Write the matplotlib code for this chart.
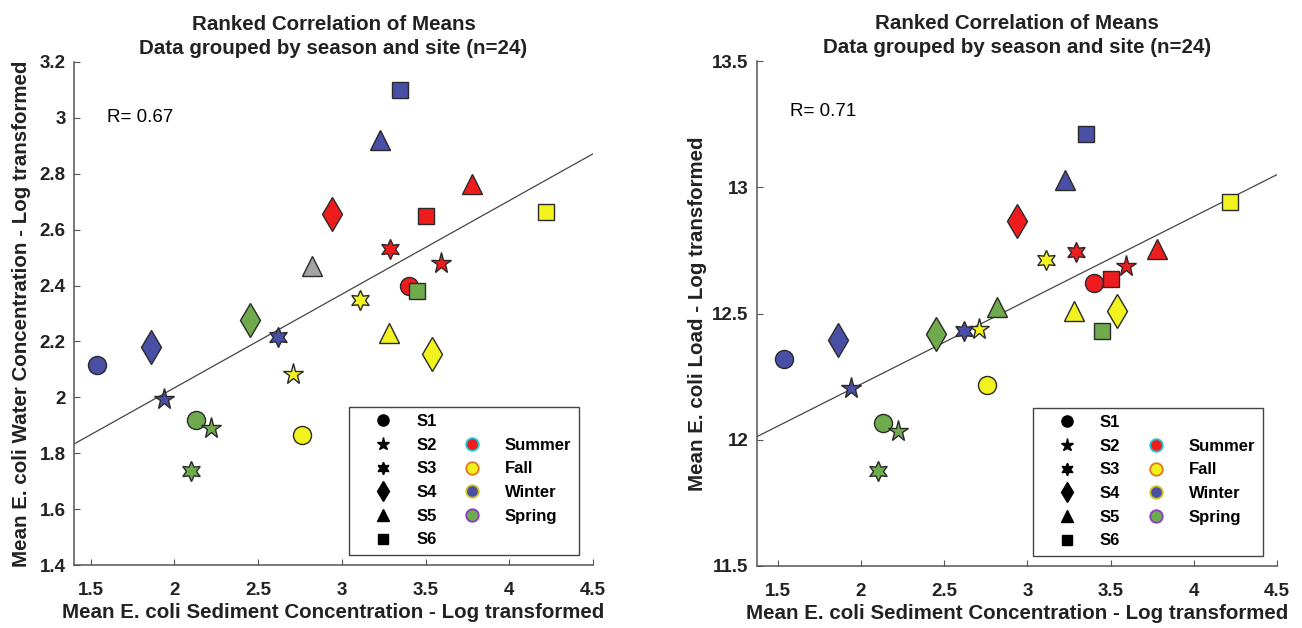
import numpy as np
import matplotlib
matplotlib.use("Agg")
import matplotlib.pyplot as plt
from matplotlib.lines import Line2D

plt.rcParams['font.family'] = ['Liberation Sans', 'DejaVu Sans']

# ---------------- data ----------------
sites = ["S1", "S2", "S3", "S4", "S5", "S6"]
seasons = ["Summer", "Fall", "Winter", "Spring"]

# x: mean E. coli sediment concentration (log), rows = sites, cols = seasons
sediment = [
    [3.40, 2.76, 1.54, 2.13],
    [3.59, 2.71, 1.94, 2.22],
    [3.29, 3.11, 2.62, 2.10],
    [2.94, 3.54, 1.86, 2.45],
    [3.78, 3.28, 3.225, 2.82],
    [3.50, 4.22, 3.35, 3.45],
]
# y (left): mean E. coli water concentration (log)
water = [
    [2.40, 1.865, 2.115, 1.92],
    [2.48, 2.085, 1.995, 1.89],
    [2.53, 2.35, 2.215, 1.735],
    [2.655, 2.155, 2.18, 2.275],
    [2.765, 2.23, 2.92, 2.47],
    [2.65, 2.665, 3.10, 2.38],
]
# y (right): mean E. coli load (log)
load = [
    [12.62, 12.215, 12.32, 12.065],
    [12.69, 12.44, 12.205, 12.035],
    [12.745, 12.71, 12.43, 11.875],
    [12.865, 12.51, 12.395, 12.42],
    [12.755, 12.51, 13.03, 12.525],
    [12.635, 12.94, 13.21, 12.43],
]
# fitted lines (slope, intercept) and correlation labels
fit_water = (0.335, 1.364)
fit_load = (0.332, 11.556)
r_water = "R= 0.67"
r_load = "R= 0.71"

# ---------------- styles ----------------
season_colors = {"Summer": "#ee1c1c", "Fall": "#f2f21e", "Winter": "#4a4fa6", "Spring": "#6fab4c"}
legend_edges = {"Summer": "#1fc4d4", "Fall": "#e0781e", "Winter": "#cfc41e", "Spring": "#8a3cc8"}
site_markers = {"S1": "o", "S2": "*", "S3": (6, 1, 0), "S4": "d", "S5": "^", "S6": "s"}
site_ms = {"S1": 13, "S2": 15.5, "S3": 14.5, "S4": 17, "S5": 14, "S6": 11}
edge = "#2a2a2a"

fig = plt.figure(figsize=(13.02, 6.28), dpi=100)
fig.patch.set_facecolor("white")
ax1 = fig.add_axes([74 / 1302, 63 / 628, 519 / 1302, 503 / 628])
ax2 = fig.add_axes([757 / 1302, 62 / 628, 520 / 1302, 505 / 628])


def draw(ax, yvals, fit, rtext, xlim, ylim, yticks, ylabel, rpos, ylabelpad, override=None):
    for i, s in enumerate(sites):
        for j, season in enumerate(seasons):
            col = season_colors[season]
            if override and (s, season) in override:
                col = override[(s, season)]
            ax.plot(sediment[i][j], yvals[i][j], marker=site_markers[s], ms=site_ms[s],
                    mfc=col, mec=edge, mew=1.0, ls="none", zorder=3)
    xs = np.array(xlim)
    ax.plot(xs, fit[0] * xs + fit[1], color="#444444", lw=0.9, zorder=2)
    ax.text(rpos[0], rpos[1], rtext, fontsize=13.5, va="center", ha="left")
    ax.set_xlim(*xlim)
    ax.set_ylim(*ylim)
    ax.set_xticks([1.5, 2, 2.5, 3, 3.5, 4, 4.5])
    ax.set_yticks(yticks)
    ax.xaxis.set_major_formatter(matplotlib.ticker.FormatStrFormatter("%g"))
    ax.yaxis.set_major_formatter(matplotlib.ticker.FormatStrFormatter("%g"))
    for sp in ["top", "right"]:
        ax.spines[sp].set_visible(False)
    for sp in ["left", "bottom"]:
        ax.spines[sp].set_color("#555555")
        ax.spines[sp].set_linewidth(1.1)
    ax.tick_params(direction="in", length=4, width=0.8, color="#555555", labelsize=13.5)
    ax.tick_params(axis="x", pad=12)
    ax.tick_params(axis="y", pad=6)
    for lab in ax.get_xticklabels() + ax.get_yticklabels():
        lab.set_fontweight("bold")
        lab.set_color("#222222")
    ax.set_xlabel("Mean E. coli Sediment Concentration - Log transformed",
                  fontsize=14.8, fontweight="bold", labelpad=3, color="#222222")
    ax.set_ylabel(ylabel, fontsize=14.8, fontweight="bold", labelpad=ylabelpad, color="#222222")
    ax.set_title("Ranked Correlation of Means\nData grouped by season and site (n=24)",
                 fontsize=14.8, fontweight="bold", pad=6, linespacing=1.3, color="#222222")

    handles = []
    labels = []
    for s in sites:
        handles.append(Line2D([], [], marker=site_markers[s], ls="none", color="black",
                              ms=site_ms[s] * 0.62, mec="black"))
        labels.append(s)
    blank = Line2D([], [], ls="none", marker=None)
    handles.append(blank)
    labels.append("")
    for season in seasons:
        handles.append(Line2D([], [], marker="o", ls="none", mfc=season_colors[season],
                              mec=legend_edges[season], mew=1.3, ms=9))
        labels.append(season)
    handles.append(blank)
    labels.append("")
    leg = ax.legend(handles, labels, ncol=2, loc="lower left",
                    bbox_to_anchor=(0.530, 0.020, 0.443, 0.3), mode="expand",
                    borderaxespad=0, prop={"weight": "bold", "size": 12},
                    handlelength=3.2, handletextpad=0.38, borderpad=0.45,
                    labelspacing=0.52, columnspacing=0.5, fancybox=False,
                    framealpha=1, edgecolor="#444444")
    leg.get_frame().set_linewidth(1.0)


draw(ax1, water, fit_water, r_water, (1.4, 4.5), (1.4, 3.2),
     [1.4, 1.6, 1.8, 2.0, 2.2, 2.4, 2.6, 2.8, 3.0, 3.2],
     "Mean E. coli Water Concentration - Log transformed", (1.597, 3.0), 6,
     override={("S5", "Spring"): "#a3a3a3"})
draw(ax2, load, fit_load, r_load, (1.375, 4.5), (11.5, 13.5),
     [11.5, 12, 12.5, 13, 13.5],
     "Mean E. coli Load - Log transformed", (1.573, 13.3), 4)

fig.savefig("out.png", dpi=100, facecolor="white")
